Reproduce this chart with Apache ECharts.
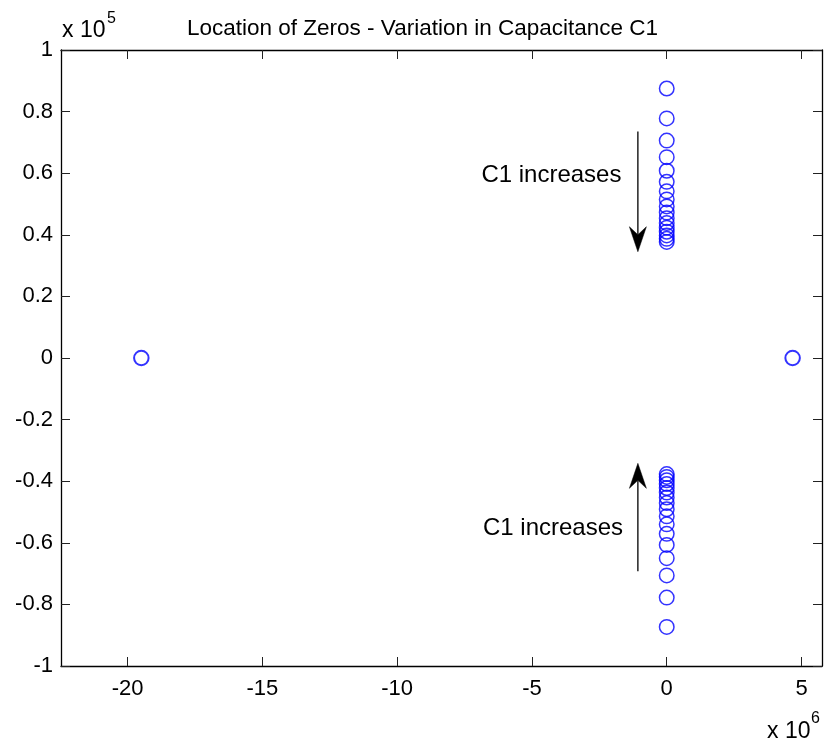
<!DOCTYPE html>
<html>
<head>
<meta charset="utf-8">
<script src="https://cdn.jsdelivr.net/npm/echarts@6/dist/echarts.min.js"></script>
<style>
  html, body { margin: 0; padding: 0; background: #fff; }
  #chart { width: 825px; height: 744px; }
</style>
</head>
<body>
<div id="chart"></div>
<script>
const FONT = '"Liberation Sans", Arial, Helvetica, sans-serif';

// Real part in units of 1e6, imaginary part in units of 1e5
const xTicks = [-20, -15, -10, -5, 0, 5];
const xRange = [-22.47, 5.76];
const yRange = [-1, 1];

// Complex-conjugate zero pair for each C1 value
const complexRe = [0, 0, 0, 0, 0, 0, 0, 0, 0, 0, 0, 0, 0, 0, 0, 0, 0];
const upperIm = [0.875, 0.778, 0.706, 0.652, 0.608, 0.572, 0.541, 0.515, 0.492,
                 0.472, 0.454, 0.438, 0.423, 0.410, 0.398, 0.387, 0.377];
const lowerIm = [-0.873, -0.778, -0.706, -0.650, -0.607, -0.571, -0.540, -0.514, -0.491,
                 -0.471, -0.453, -0.437, -0.422, -0.409, -0.397, -0.386, -0.377];

// Real zeros
const realRe = [-19.49, 4.67];
const realIm = [0, 0];

// Annotations: arrows (start -> tip) and text anchors (right edge, middle)
const noteText = 'C1 increases';
const arrowDown = [[-1.07, 0.735], [-1.07, 0.345]];
const arrowUp = [[-1.07, -0.692], [-1.07, -0.342]];
const noteUpper = [-1.68, 0.594];
const noteLower = [-1.62, -0.552];

const chart = echarts.init(document.getElementById('chart'), null, { renderer: 'canvas' });

const BLUE = '#0000ff';
const tickStyle = { show: true, inside: true, length: 9, lineStyle: { color: '#222', width: 1 } };
const lineStyle = { color: '#000', width: 1.3 };

function fmtY(v) {
  const r = Math.round(v * 10) / 10;
  return (Math.abs(r) < 1e-9 ? 0 : r).toString();
}

const circleItem = (w) => ({ color: 'rgba(0,0,0,0)', borderColor: BLUE, borderWidth: w });

chart.setOption({
  animation: false,
  backgroundColor: '#fff',
  textStyle: { fontFamily: FONT },
  title: {
    text: 'Location of Zeros - Variation in Capacitance C1',
    left: 182, top: 12,
    textStyle: { fontFamily: FONT, fontSize: 22.5, fontWeight: 'normal', color: '#000' }
  },
  grid: { left: 61, right: 3, top: 50, bottom: 78, containLabel: false },
  xAxis: [
    {
      type: 'value', position: 'bottom', min: xRange[0], max: xRange[1],
      axisLine: { show: true, onZero: false, lineStyle },
      axisTick: Object.assign({ customValues: xTicks }, tickStyle),
      axisLabel: { customValues: xTicks, margin: 12, fontSize: 22, color: '#000', fontFamily: FONT },
      splitLine: { show: false }
    },
    {
      type: 'value', position: 'top', min: xRange[0], max: xRange[1],
      axisLine: { show: true, onZero: false, lineStyle },
      axisTick: Object.assign({ customValues: xTicks }, tickStyle),
      axisLabel: { show: false },
      splitLine: { show: false }
    }
  ],
  yAxis: [
    {
      type: 'value', position: 'left', min: yRange[0], max: yRange[1], interval: 0.2,
      axisLine: { show: true, onZero: false, lineStyle },
      axisTick: tickStyle,
      axisLabel: { margin: 8, fontSize: 22, color: '#000', fontFamily: FONT, formatter: fmtY },
      splitLine: { show: false }
    },
    {
      type: 'value', position: 'right', min: yRange[0], max: yRange[1], interval: 0.2,
      axisLine: { show: true, onZero: false, lineStyle },
      axisTick: tickStyle,
      axisLabel: { show: false },
      splitLine: { show: false }
    }
  ],
  series: [
    {
      name: 'upper', type: 'scatter', symbol: 'circle', symbolSize: 14.5,
      data: complexRe.map((x, i) => [x, upperIm[i]]),
      itemStyle: circleItem(1.5)
    },
    {
      name: 'lower', type: 'scatter', symbol: 'circle', symbolSize: 14.5,
      data: complexRe.map((x, i) => [x, lowerIm[i]]),
      itemStyle: circleItem(1.5)
    },
    {
      name: 'real', type: 'scatter', symbol: 'circle', symbolSize: 14.5,
      data: realRe.map((x, i) => [x, realIm[i]]),
      itemStyle: circleItem(2)
    }
  ]
});

function px(p) { return chart.convertToPixel({ gridIndex: 0 }, p); }

function arrowElements(seg) {
  const a = px(seg[0]), b = px(seg[1]);
  const dx = b[0] - a[0], dy = b[1] - a[1];
  const len = Math.hypot(dx, dy);
  const ux = dx / len, uy = dy / len;
  const nx = -uy, ny = ux;
  const headLen = 25, halfW = 8.5, notch = 17;
  const back = [b[0] - ux * headLen, b[1] - uy * headLen];
  const mid = [b[0] - ux * notch, b[1] - uy * notch];
  return [
    {
      type: 'line', silent: true,
      shape: { x1: a[0], y1: a[1], x2: mid[0], y2: mid[1] },
      style: { stroke: '#000', lineWidth: 1.3 }
    },
    {
      type: 'polygon', silent: true,
      shape: { points: [b, [back[0] + nx * halfW, back[1] + ny * halfW], mid, [back[0] - nx * halfW, back[1] - ny * halfW]] },
      style: { fill: '#000', stroke: '#000', lineWidth: 0.5 }
    }
  ];
}

function noteElement(p) {
  const q = px(p);
  return {
    type: 'text', silent: true, x: q[0], y: q[1],
    style: { text: noteText, font: '24px ' + FONT, fill: '#000', align: 'right', verticalAlign: 'middle' }
  };
}

const elems = [].concat(
  arrowElements(arrowDown),
  arrowElements(arrowUp),
  [noteElement(noteUpper), noteElement(noteLower)],
  [
    { type: 'text', silent: true, x: 62, y: 31,
      style: { text: 'x 10', font: '23px ' + FONT, fill: '#000', align: 'left', verticalAlign: 'middle' } },
    { type: 'text', silent: true, x: 107, y: 19,
      style: { text: '5', font: '16px ' + FONT, fill: '#000', align: 'left', verticalAlign: 'middle' } },
    { type: 'text', silent: true, x: 767, y: 732,
      style: { text: 'x 10', font: '23px ' + FONT, fill: '#000', align: 'left', verticalAlign: 'middle' } },
    { type: 'text', silent: true, x: 811, y: 719,
      style: { text: '6', font: '16px ' + FONT, fill: '#000', align: 'left', verticalAlign: 'middle' } }
  ]
);

chart.setOption({ graphic: { elements: elems } });
</script>
</body>
</html>
